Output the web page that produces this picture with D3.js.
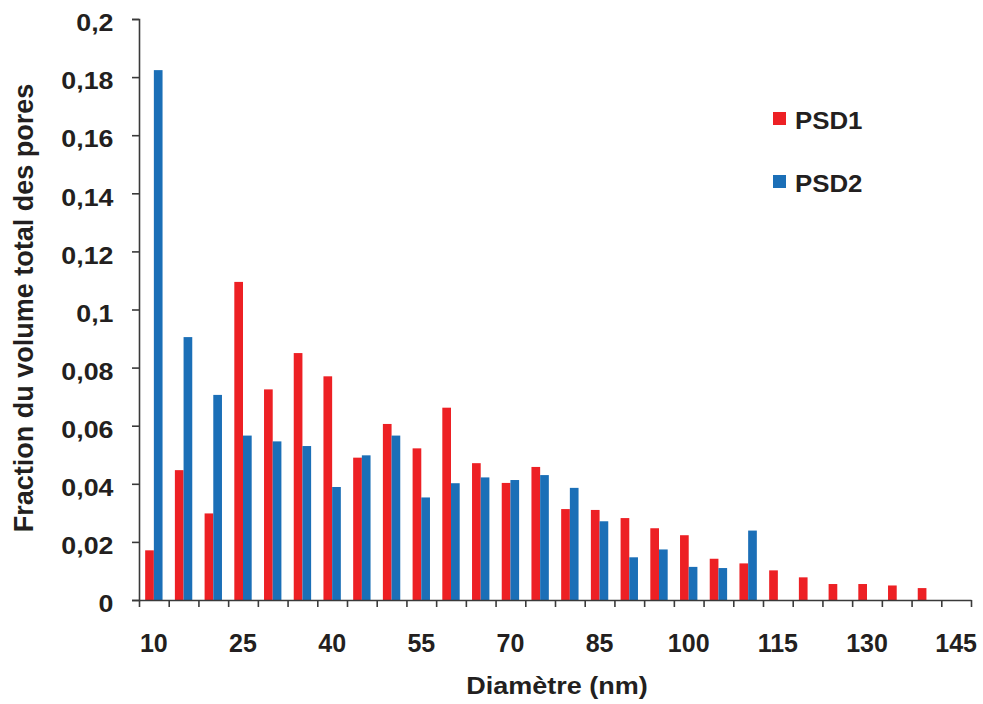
<!DOCTYPE html>
<html>
<head>
<meta charset="utf-8">
<script src="https://cdn.jsdelivr.net/npm/d3@7"></script>
<style>
  html, body { margin: 0; padding: 0; background: #ffffff; }
  svg { display: block; }
  text { font-family: "Liberation Sans", Arial, Helvetica, sans-serif; font-weight: bold; fill: #231F20; }
</style>
</head>
<body>
<script>
// ---- Data ----
const categories = [10,15,20,25,30,35,40,45,50,55,60,65,70,75,80,85,90,95,100,105,110,115,120,125,130,135,140,145];
const psd1 = [0.0171,0.0447,0.0298,0.1095,0.0725,0.0850,0.0770,0.0490,0.0606,0.0522,0.0662,0.0471,0.0403,0.0458,0.0313,0.0310,0.0282,0.0247,0.0223,0.0142,0.0126,0.0102,0.0078,0.0055,0.0055,0.0050,0.0041,null];
const psd2 = [0.1824,0.0905,0.0706,0.0566,0.0546,0.0530,0.0389,0.0498,0.0566,0.0353,0.0402,0.0422,0.0413,0.0430,0.0386,0.0271,0.0147,0.0174,0.0114,0.0110,0.0239,null,null,null,null,null,null,null];
const seriesNames = ["PSD1","PSD2"];
const seriesColors = ["#ED2024","#1B6FB7"];
const xTickLabels = [10,25,40,55,70,85,100,115,130,145];
const yTicks = [0,0.02,0.04,0.06,0.08,0.1,0.12,0.14,0.16,0.18,0.2];
const xTitle = "Diamètre (nm)";
const yTitle = "Fraction du volume total des pores";

// ---- Layout ----
const W = 983, H = 704;
const mLeft = 139, mRight = 971, mTop = 19, mBottom = 600;

const svg = d3.select("body").append("svg").attr("width", W).attr("height", H);

const x = d3.scaleBand().domain(categories).range([mLeft, mRight]).paddingInner(0).paddingOuter(0);
const xs = d3.scaleBand().domain(seriesNames).range([0, x.bandwidth()]).paddingInner(0).paddingOuter(0.71);
const xb = d3.scaleLinear().domain([0, categories.length]).range([mLeft, mRight]);
const y = d3.scaleLinear().domain([0, 0.2]).range([mBottom, mTop]);

const fr = d3.formatLocale({decimal: ",", thousands: " ", grouping: [3], currency: ["", ""]});
const fmt = fr.format(".2~f");

// horizontally stretch text around its anchor point
function stretch(sel, sx) {
  sel.each(function() {
    const t = d3.select(this);
    const tx = +(t.attr("x") || 0), ty = +(t.attr("y") || 0);
    const prev = t.attr("transform") || "";
    t.attr("x", 0).attr("y", 0).attr("transform", `${prev} translate(${tx},${ty}) scale(${sx},1)`);
  });
}

// bars
const rows = categories.map((c, i) => ({c, vals: [psd1[i], psd2[i]]}));
const g = svg.append("g");
rows.forEach(r => {
  r.vals.forEach((v, k) => {
    if (v == null) return;
    g.append("rect")
      .attr("x", x(r.c) + xs(seriesNames[k]))
      .attr("width", xs.bandwidth())
      .attr("y", y(v))
      .attr("height", y(0) - y(v))
      .attr("fill", seriesColors[k]);
  });
});

// y axis
const yAxis = d3.axisLeft(y).tickValues(yTicks).tickFormat(fmt).tickSize(7).tickPadding(18.5);
const gy = svg.append("g").attr("transform", `translate(${mLeft},0)`).call(yAxis);
gy.select(".domain").attr("stroke", "#3a3a3a").attr("stroke-width", 1.6);
gy.selectAll(".tick line").attr("stroke", "#3a3a3a").attr("stroke-width", 1.6);
gy.selectAll(".tick text").style("font-size", "23.5px").attr("fill", "#231F20").attr("dy", "0.5em");
stretch(gy.selectAll(".tick text"), 1.14);

// x axis: boundary ticks
const xAxisTicks = d3.axisBottom(xb).tickValues(d3.range(0, categories.length + 1)).tickFormat("").tickSize(7).tickSizeOuter(0);
const gx = svg.append("g").attr("transform", `translate(0,${mBottom})`).call(xAxisTicks);
gx.select(".domain").attr("stroke", "#3a3a3a").attr("stroke-width", 1.6);
gx.selectAll(".tick line").attr("stroke", "#3a3a3a").attr("stroke-width", 1.6);

// x axis labels
const xLab = d3.axisBottom(x).tickValues(xTickLabels).tickSize(0).tickPadding(34);
const gxl = svg.append("g").attr("transform", `translate(0,${mBottom})`).call(xLab);
gxl.select(".domain").remove();
gxl.selectAll(".tick text").style("font-size", "25px").attr("fill", "#231F20");

// titles
const xt = svg.append("text").attr("x", 557).attr("y", 693.5).attr("text-anchor", "middle")
  .style("font-size", "23.5px").text(xTitle);
stretch(xt, 1.15);
svg.append("text").attr("transform", `translate(32.5,308) rotate(-90)`).attr("text-anchor", "middle")
  .style("font-size", "27px").text(yTitle);

// legend
const leg = svg.append("g");
seriesNames.forEach((s, k) => {
  const ly = 112 + k * 63;
  leg.append("rect").attr("x", 773).attr("y", ly).attr("width", 13).attr("height", 13).attr("fill", seriesColors[k]);
  const lt = leg.append("text").attr("x", 795).attr("y", ly + 17.3).style("font-size", "23.5px").text(s);
  stretch(lt, 1.1);
});
</script>
</body>
</html>
